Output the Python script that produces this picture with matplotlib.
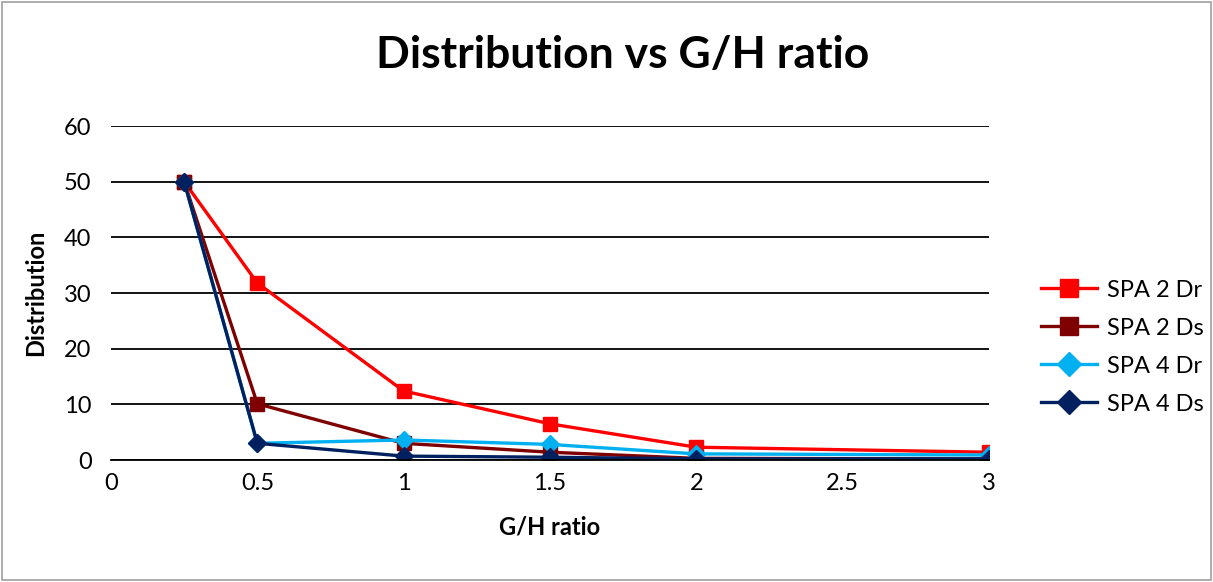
import matplotlib
matplotlib.use("Agg")
import matplotlib.pyplot as plt
from matplotlib.patches import Rectangle

plt.rcParams['font.family'] = ['Lato', 'DejaVu Sans']

x = [0.25, 0.5, 1, 1.5, 2, 3]
spa2_dr = [50, 31.8, 12.4, 6.5, 2.3, 1.4]
spa2_ds = [50, 10.1, 3.0, 1.4, 0.3, 0.2]
spa4_dr = [50, 3.0, 3.6, 2.8, 1.1, 0.9]
spa4_ds = [50, 3.0, 0.7, 0.5, 0.2, 0.2]
series = [
    ("SPA 2 Dr", spa2_dr, "#FF0000", "s"),
    ("SPA 2 Ds", spa2_ds, "#7F0000", "s"),
    ("SPA 4 Dr", spa4_dr, "#00B0F0", "D"),
    ("SPA 4 Ds", spa4_ds, "#002060", "D"),
]
xticks = [0, 0.5, 1, 1.5, 2, 2.5, 3]
xticklabels = ["0", "0.5", "1", "1.5", "2", "2.5", "3"]
yticks = [0, 10, 20, 30, 40, 50, 60]

fig = plt.figure(figsize=(12.13, 5.82), dpi=100)
fig.patches.append(Rectangle((0.002, 0.003), 0.996, 0.994, transform=fig.transFigure,
                             fill=False, edgecolor="#A0A0A0", linewidth=1.2))
ax = fig.add_axes([0.0915, 0.2096, 0.7238, 0.5739])

for label, vals, col, mk in series:
    ms = 10 if mk == "s" else 9.5
    ax.plot(x, vals, color=col, marker=mk, markersize=ms, linewidth=2.4,
            label=label, markeredgecolor=col)

ax.set_xlim(0, 3)
ax.set_ylim(0, 60)
ax.set_xticks(xticks)
ax.set_xticklabels(xticklabels)
ax.set_yticks(yticks)
ax.yaxis.grid(True, color="black", linewidth=1.3)
ax.set_axisbelow(True)
for s in ["left", "right", "top"]:
    ax.spines[s].set_visible(False)
ax.spines["bottom"].set_color("black")
ax.spines["bottom"].set_linewidth(1.3)
ax.tick_params(axis="both", length=0, labelsize=17)
ax.tick_params(axis="x", pad=9)
ax.tick_params(axis="y", pad=14)

ax.set_xlabel("G/H ratio", fontsize=17, fontweight="bold", labelpad=16)
ax.set_ylabel("Distribution", fontsize=17, fontweight="bold", labelpad=12)
fig.text(0.5135, 0.905, "Distribution vs G/H ratio", fontsize=32, fontweight="bold",
         ha="center", va="center")

ax.legend(loc="center left", bbox_to_anchor=(1.048, 0.338), frameon=False,
          fontsize=17, labelspacing=0.72, handlelength=2.4, handletextpad=0.4,
          borderaxespad=0, markerscale=1.25)

fig.savefig("out.png", dpi=100)
